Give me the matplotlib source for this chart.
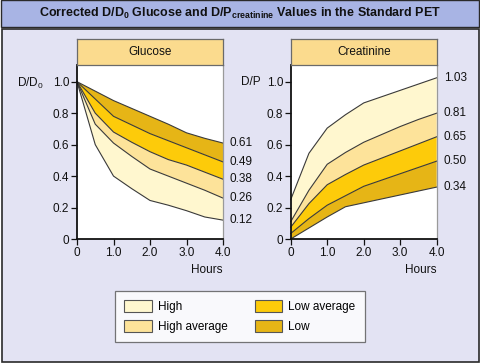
import matplotlib
matplotlib.use("Agg")
import matplotlib.pyplot as plt
from matplotlib.patches import Rectangle, Patch

plt.rcParams['font.family'] = ['Liberation Sans', 'DejaVu Sans']
plt.rcParams['mathtext.fontset'] = 'custom'
plt.rcParams['mathtext.rm'] = 'Liberation Sans'
plt.rcParams['mathtext.it'] = 'Liberation Sans'
plt.rcParams['mathtext.bf'] = 'Liberation Sans:bold'

# ---------------- data ----------------
hours = [0, 0.5, 1.0, 1.5, 2.0, 2.5, 3.0, 3.5, 4.0]
x_ticks = [0, 1.0, 2.0, 3.0, 4.0]
x_tick_labels = ["0", "1.0", "2.0", "3.0", "4.0"]
y_ticks = [0, 0.2, 0.4, 0.6, 0.8, 1.0]
y_tick_labels = ["0", "0.2", "0.4", "0.6", "0.8", "1.0"]

glucose_061 = [1.0, 0.94, 0.88, 0.83, 0.78, 0.73, 0.675, 0.64, 0.61]
glucose_049 = [1.0, 0.89, 0.78, 0.725, 0.67, 0.625, 0.58, 0.535, 0.49]
glucose_038 = [1.0, 0.80, 0.68, 0.615, 0.555, 0.505, 0.47, 0.425, 0.38]
glucose_026 = [1.0, 0.73, 0.61, 0.525, 0.445, 0.40, 0.355, 0.31, 0.26]
glucose_012 = [1.0, 0.60, 0.40, 0.32, 0.245, 0.215, 0.18, 0.14, 0.12]
glucose_end_labels = ["0.61", "0.49", "0.38", "0.26", "0.12"]

creat_103 = [0.25, 0.545, 0.705, 0.79, 0.865, 0.905, 0.945, 0.985, 1.025]
creat_081 = [0.11, 0.31, 0.475, 0.55, 0.615, 0.665, 0.715, 0.76, 0.80]
creat_065 = [0.075, 0.225, 0.345, 0.41, 0.47, 0.515, 0.56, 0.605, 0.65]
creat_050 = [0.035, 0.13, 0.215, 0.275, 0.335, 0.375, 0.415, 0.455, 0.495]
creat_034 = [0.0, 0.07, 0.14, 0.205, 0.23, 0.255, 0.28, 0.305, 0.33]
creat_end_labels = ["1.03", "0.81", "0.65", "0.50", "0.34"]

band_names = ["High", "High average", "Low average", "Low"]
band_colors = {"High": "#FFF7CF", "High average": "#FDE39A",
               "Low average": "#FDCB0A", "Low": "#E6B516"}

# ---------------- figure ----------------
W, H = 480, 363
fig = plt.figure(figsize=(W / 100, H / 100), dpi=100)
fig.patch.set_facecolor("white")


def fx(px):
    return px / W


def fy(py):
    return 1 - py / H


# title bar
fig.patches.append(Rectangle((fx(1), fy(26.5)), fx(478), 26 / H, transform=fig.transFigure,
                             facecolor="#A8B4E4", edgecolor="#2a2a2a", linewidth=1.0, zorder=-5))
fig.text(fx(240), fy(13.5),
         r"Corrected D/D$_{\mathbf{0}}$ Glucose and D/P$_{\mathbf{creatinine}}$ Values in the Standard PET",
         ha="center", va="center", fontsize=9.0, fontweight="bold", color="#111111")
# panel
fig.patches.append(Rectangle((fx(1.5), fy(362)), fx(477), 333 / H, transform=fig.transFigure,
                             facecolor="#E3E3F3", edgecolor="#2a2a2a", linewidth=1.2, zorder=-5))

edge = "#3a3a3a"


def make_panel(left_px, title, curves, end_labels):
    ax = fig.add_axes([fx(left_px), fy(239), 146 / W, (239 - 65) / H])
    ax.set_facecolor("white")
    ax.set_xlim(0, 4)
    ax.set_ylim(0, (239 - 65) / 157.3)
    # bands: curves ordered from top to bottom
    order = ["Low", "Low average", "High average", "High"] if title == "Glucose" else \
        ["High", "High average", "Low average", "Low"]
    for i, name in enumerate(order):
        ax.fill_between(hours, curves[i], curves[i + 1], facecolor=band_colors[name],
                        edgecolor="none", zorder=1)
    for c in curves:
        ax.plot(hours, c, color=edge, linewidth=0.8, zorder=2, clip_on=False)
    for c, lab in zip(curves, end_labels):
        ax.annotate(lab, xy=(hours[-1], c[-1]), xytext=(5, 0), textcoords="offset points",
                    ha="left", va="center", fontsize=8.5, color="#111111",
                    annotation_clip=False)
    ax.set_xticks(x_ticks)
    ax.set_xticklabels(x_tick_labels)
    ax.set_yticks(y_ticks)
    ax.set_yticklabels(y_tick_labels)
    ax.tick_params(direction="out", length=4, width=0.9, pad=1.5, labelsize=8.5,
                   colors="#111111")
    ax.spines["top"].set_visible(False)
    ax.spines["right"].set_color("#9a9a9a")
    ax.spines["right"].set_linewidth(0.9)
    ax.spines["left"].set_linewidth(1.3)
    ax.spines["bottom"].set_linewidth(1.3)
    ax.spines["left"].set_color("#111111")
    ax.spines["bottom"].set_color("#111111")
    ax.text(1.0, -0.145, "Hours", transform=ax.transAxes, ha="right", va="top",
            fontsize=8.5, color="#111111")
    # header
    hx = fig.add_axes([fx(left_px), fy(65), 146 / W, (65 - 38.5) / H])
    hx.set_facecolor("#FBDB8E")
    hx.set_xticks([])
    hx.set_yticks([])
    for s in hx.spines.values():
        s.set_color("#6a6a6a")
        s.set_linewidth(0.9)
    hx.text(0.5, 0.5, title, ha="center", va="center", fontsize=8.5, color="#111111")
    return ax


ax1 = make_panel(77, "Glucose",
                 [glucose_061, glucose_049, glucose_038, glucose_026, glucose_012],
                 glucose_end_labels)
fig.text(fx(30), fy(83), r"D/D$_0$", ha="center", va="center", fontsize=8.5, color="#111111")

ax2 = make_panel(290.7, "Creatinine",
                 [creat_103, creat_081, creat_065, creat_050, creat_034],
                 creat_end_labels)
fig.text(fx(251), fy(82), "D/P", ha="center", va="center", fontsize=8.5, color="#111111")

handles = [Patch(facecolor=band_colors[n], edgecolor="#555555", linewidth=0.8) for n in band_names]
leg = fig.legend(handles, band_names, ncol=2, loc="lower left",
                 bbox_to_anchor=(fx(115), fy(342), 250 / W, 53 / H), mode="expand",
                 fontsize=8.5, frameon=True, fancybox=False, borderaxespad=0,
                 handlelength=2.3, handleheight=1.2, handletextpad=0.55,
                 labelspacing=0.55, borderpad=0.8, columnspacing=2.5)
leg.get_frame().set_edgecolor("#555555")
leg.get_frame().set_linewidth(0.9)

fig.savefig("out.png", dpi=100)
